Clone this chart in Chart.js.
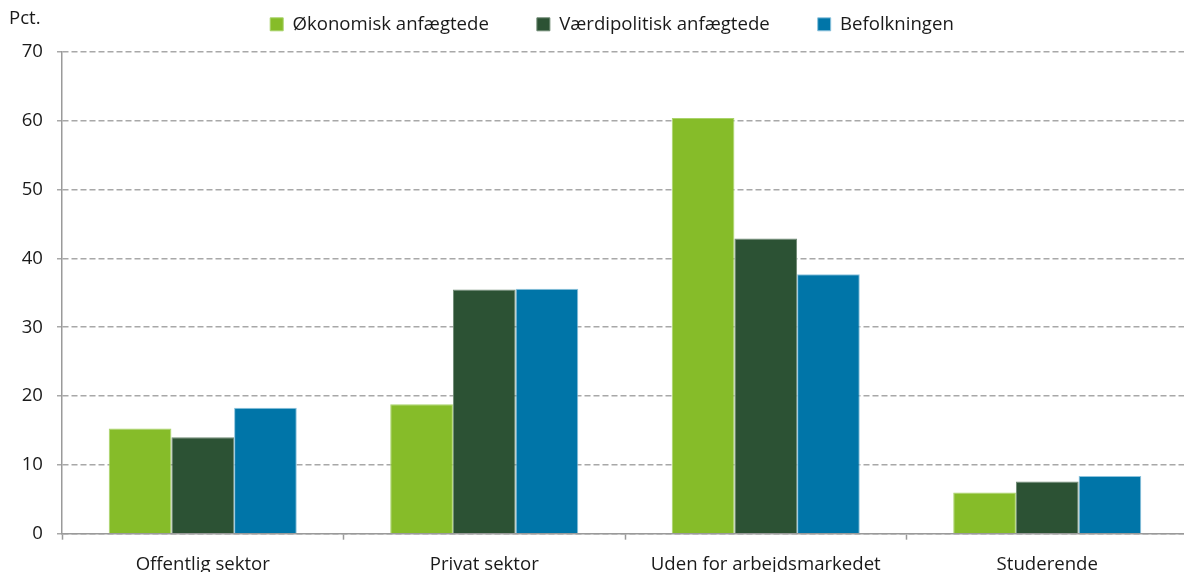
<!DOCTYPE html>
<html>
<head>
<meta charset="utf-8">
<script src="https://cdn.jsdelivr.net/npm/chart.js@4"></script>
<style>
    html, body { margin: 0; padding: 0; background: #fff; overflow: hidden; }
    #wrap { width: 1188px; height: 590px; position: relative; }
</style>
</head>
<body>
<div id="wrap"><canvas id="BarChart"></canvas></div>
<script>
// categories and series values
const categories = ['Offentlig sektor', 'Privat sektor', 'Uden for arbejdsmarkedet', 'Studerende'];
const seriesNames = ['Økonomisk anfægtede', 'Værdipolitisk anfægtede', 'Befolkningen'];
const oekonomisk = [15.3, 18.8, 60.4, 6.0];
const vaerdipolitisk = [14.0, 35.5, 42.9, 7.6];
const befolkningen = [18.3, 35.6, 37.7, 8.4];
const yTicks = [0, 10, 20, 30, 40, 50, 60, 70];

const FONT = 'Open Sans';
const FONT_SIZE = 18.6;
const TEXT = '#1a1a1a';

// "Pct." unit label in the top left corner
const unitLabel = {
    id: 'unitLabel',
    afterDraw(chart) {
        const ctx = chart.ctx;
        ctx.save();
        ctx.font = FONT_SIZE + 'px "' + FONT + '"';
        ctx.fillStyle = TEXT;
        ctx.textBaseline = 'alphabetic';
        ctx.fillText('Pct.', 9, 24);
        ctx.restore();
    }
};

// legend sits higher and a bit more to the right than chart.js puts it
const legendPlacement = {
    id: 'legendPlacement',
    beforeInit(chart) {
        const legend = chart.legend;
        const fit = legend.fit;
        legend.fit = function() {
            fit.call(this);
            this.height = 52; // chart area starts at y=52
        };
    },
    afterLayout(chart) {
        const lg = chart.legend;
        lg.top -= 33; // only the top, so the clip box still covers the items
        lg.left += 18;
        lg.right += 18;
    }
};

function createBarChart() {
    const ctx = document.getElementById('BarChart').getContext('2d');
    new Chart(ctx, {
        type: 'bar',
        data: {
            labels: categories,
            datasets: [{
                label: seriesNames[0],
                data: oekonomisk,
                backgroundColor: '#86BC29',
                borderColor: '#A9D36A',
                borderWidth: 1
            }, {
                label: seriesNames[1],
                data: vaerdipolitisk,
                backgroundColor: '#2C5234',
                borderColor: '#6F8A74',
                borderWidth: 1
            }, {
                label: seriesNames[2],
                data: befolkningen,
                backgroundColor: '#0075A8',
                borderColor: '#8CC3DD',
                borderWidth: 1
            }]
        },
        options: {
            responsive: true,
            maintainAspectRatio: false,
            animation: false,
            layout: { padding: { top: 0, right: 0, left: 0, bottom: 0 } },
            datasets: { bar: { categoryPercentage: 0.668, barPercentage: 1.0 } },
            plugins: {
                legend: {
                    position: 'top',
                    labels: {
                        color: TEXT,
                        font: { size: FONT_SIZE, family: FONT },
                        boxWidth: 13,
                        boxHeight: 13,
                        padding: 48
                    }
                },
                tooltip: { enabled: false }
            },
            scales: {
                x: {
                    grid: {
                        offset: true,
                        drawOnChartArea: false,
                        drawTicks: true,
                        tickLength: 6,
                        tickColor: '#9a9a9a',
                        tickWidth: 1.5
                    },
                    border: { color: '#9a9a9a', width: 1.5 },
                    ticks: {
                        color: TEXT,
                        font: { size: FONT_SIZE, family: FONT },
                        padding: 14,
                        maxRotation: 0
                    }
                },
                y: {
                    min: 0,
                    max: 70,
                    afterBuildTicks: (axis) => { axis.ticks = yTicks.map(v => ({ value: v })); },
                    afterFit: (axis) => { axis.width = 62; },
                    grid: {
                        color: '#a8a8a8',
                        lineWidth: 1.5,
                        tickLength: 5,
                        tickColor: '#a8a8a8',
                        tickBorderDash: [6, 3]
                    },
                    border: { color: '#9a9a9a', width: 1.5, dash: [6, 3], display: true },
                    ticks: {
                        color: TEXT,
                        font: { size: FONT_SIZE, family: FONT },
                        padding: 14
                    }
                }
            }
        },
        plugins: [unitLabel, legendPlacement]
    });
}

createBarChart();
</script>
</body>
</html>
